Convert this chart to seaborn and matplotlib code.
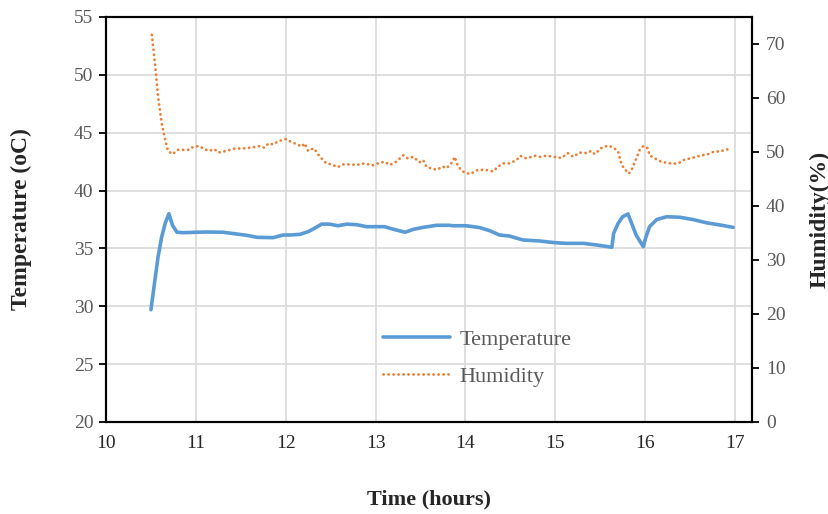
import numpy as np
import pandas as pd
import matplotlib
matplotlib.use("Agg")
import matplotlib.pyplot as plt
import seaborn as sns

# ---- data ----
temp_time = [10.50, 10.58, 10.62, 10.66, 10.70, 10.74, 10.79, 10.86, 11.01, 11.12, 11.30,
             11.45, 11.57, 11.68, 11.86, 11.97, 12.05, 12.16, 12.25, 12.32, 12.40, 12.49,
             12.58, 12.68, 12.79, 12.90, 13.01, 13.10, 13.20, 13.33, 13.42, 13.53, 13.68,
             13.82, 13.86, 14.01, 14.16, 14.27, 14.38, 14.49, 14.64, 14.83, 14.99, 15.12,
             15.31, 15.46, 15.63, 15.65, 15.70, 15.75, 15.81, 15.85, 15.90, 15.98, 16.01,
             16.05, 16.13, 16.24, 16.39, 16.53, 16.68, 16.83, 16.98]
temperature = [29.7, 34.3, 36.0, 37.2, 38.0, 37.0, 36.4, 36.36, 36.4, 36.42, 36.4,
               36.25, 36.13, 35.96, 35.93, 36.16, 36.16, 36.22, 36.45, 36.74, 37.1, 37.1,
               36.96, 37.1, 37.05, 36.88, 36.88, 36.88, 36.65, 36.4, 36.65, 36.82, 37.0,
               37.0, 36.96, 36.96, 36.8, 36.53, 36.16, 36.07, 35.73, 35.64, 35.5, 35.44,
               35.44, 35.3, 35.1, 36.3, 37.17, 37.74, 37.98, 37.17, 36.16, 35.15, 36.0,
               36.88, 37.5, 37.74, 37.69, 37.5, 37.22, 37.03, 36.82]

hum_time = [10.51, 10.545, 10.58, 10.62, 10.66, 10.69, 10.74, 10.80, 10.92, 10.95, 11.03,
            11.08, 11.14, 11.21, 11.25, 11.34, 11.42, 11.57, 11.71, 11.76, 11.81, 11.86,
            11.92, 12.00, 12.07, 12.10, 12.18, 12.21, 12.25, 12.31, 12.34, 12.38, 12.42,
            12.45, 12.51, 12.58, 12.64, 12.71, 12.79, 12.88, 12.96, 13.03, 13.10, 13.16,
            13.23, 13.31, 13.36, 13.42, 13.49, 13.53, 13.57, 13.68, 13.75, 13.79, 13.86,
            13.88, 13.92, 13.97, 14.05, 14.14, 14.22, 14.31, 14.35, 14.42, 14.49, 14.57,
            14.61, 14.68, 14.77, 14.83, 14.90, 14.99, 15.07, 15.14, 15.20, 15.27, 15.35,
            15.40, 15.44, 15.51, 15.59, 15.65, 15.70, 15.72, 15.74, 15.78, 15.82, 15.85,
            15.88, 15.91, 15.94, 15.98, 16.03, 16.05, 16.11, 16.18, 16.24, 16.31, 16.38,
            16.44, 16.50, 16.61, 16.70, 16.77, 16.84, 16.90, 16.96]
humidity = [71.7, 66.4, 60.2, 55.3, 52.2, 50.2, 49.6, 50.4, 50.4, 50.8, 51.1,
            50.7, 50.2, 50.5, 49.9, 50.2, 50.6, 50.7, 51.1, 50.8, 51.6, 51.4,
            52.0, 52.4, 51.8, 51.6, 51.0, 51.6, 50.2, 50.7, 50.1, 49.1, 48.5,
            47.9, 47.7, 47.2, 47.7, 47.7, 47.6, 47.9, 47.5, 47.9, 48.2, 47.6,
            48.2, 49.4, 48.8, 49.1, 48.1, 48.5, 47.2, 46.7, 47.3, 47.0, 48.2,
            49.1, 47.3, 46.4, 45.9, 46.7, 46.7, 46.4, 47.1, 47.9, 47.9, 48.5,
            49.3, 48.8, 49.3, 49.1, 49.3, 49.1, 48.9, 49.8, 49.1, 49.9, 49.8,
            50.2, 49.6, 50.7, 51.2, 50.8, 50.1, 48.8, 47.6, 46.7, 46.0, 46.7,
            47.9, 49.1, 50.4, 51.1, 50.7, 49.4, 48.8, 48.2, 48.0, 47.8, 48.0,
            48.6, 48.8, 49.3, 49.6, 50.1, 50.1, 50.5, 50.4]

x_ticks = [10, 11, 12, 13, 14, 15, 16, 17]
t_ticks = [20, 25, 30, 35, 40, 45, 50, 55]
h_ticks = [0, 10, 20, 30, 40, 50, 60, 70]

temp_df = pd.DataFrame({"Time": temp_time, "Temperature": temperature})
hum_df = pd.DataFrame({"Time": hum_time, "Humidity": humidity})

sns.set_theme(style="white")
plt.rcParams["font.family"] = ["Liberation Serif", "DejaVu Serif"]

blue = "#5B9BD5"
orange = "#ED7D31"
gray = "#595959"

fig = plt.figure(figsize=(8.29, 5.14), dpi=100)
ax = fig.add_axes([106 / 829, 1 - 422 / 514, (752 - 106) / 829, (422 - 17) / 514])
ax2 = ax.twinx()

sns.lineplot(data=temp_df, x="Time", y="Temperature", ax=ax, color=blue,
             linewidth=2.6, label="Temperature", legend=False)
sns.lineplot(data=hum_df, x="Time", y="Humidity", ax=ax2, color=orange,
             linewidth=2.0, label="Humidity", legend=False)
hum_line = ax2.lines[0]
hum_line.set_linestyle((0, (0.05, 1.75)))
hum_line.set_dash_capstyle("round")

ax.set_xlim(10, 17.19)
ax.set_ylim(20, 55)
ax2.set_ylim(0, 75)
ax.set_xticks(x_ticks)
ax.set_yticks(t_ticks)
ax2.set_yticks(h_ticks)

ax.grid(True, color="#D9D9D9", linewidth=1.2)
ax.set_axisbelow(True)
ax2.grid(False)

for a in (ax, ax2):
    for s in a.spines.values():
        s.set_color("black")
        s.set_linewidth(1.5)

ax.tick_params(axis="y", which="major", left=True, length=5, width=1.3,
               color="black", labelsize=14, labelcolor=gray, pad=4)
ax.tick_params(axis="x", which="major", bottom=False, length=0,
               labelsize=14, labelcolor="#262626", pad=9)
ax2.tick_params(axis="y", which="major", right=True, length=5, width=1.3,
                color="black", labelsize=14, labelcolor=gray, pad=5)

ax.set_xlabel("Time (hours)", fontsize=16, fontweight="bold", labelpad=27)
ax.set_ylabel("Temperature (oC)", fontsize=17, fontweight="bold", labelpad=30)
ax2.set_ylabel("Humidity(%)", fontsize=17, fontweight="bold", labelpad=17)

h1, l1 = ax.get_legend_handles_labels()
h2, l2 = ax2.get_legend_handles_labels()
fig.legend(h1 + h2, l1 + l2, loc="upper left",
           bbox_to_anchor=(383 / 829, 1 - 329 / 514), frameon=False,
           fontsize=16, handlelength=3.0, handletextpad=0.45,
           labelspacing=0.75, borderpad=0, borderaxespad=0,
           labelcolor=gray)

fig.savefig("out.png", dpi=100)
